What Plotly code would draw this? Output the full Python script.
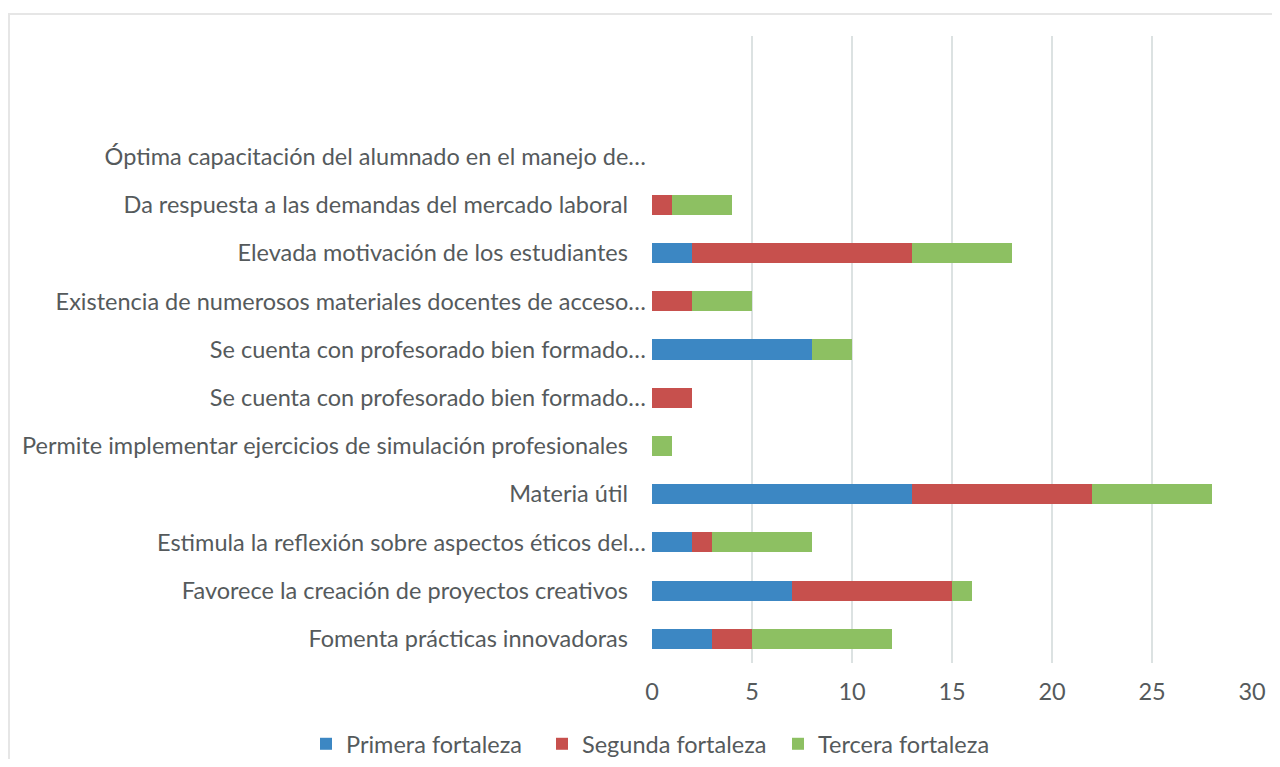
import plotly.graph_objects as go

NB = "\u00a0\u00a0\u00a0"
# categories from bottom to top
categories = [
    "Fomenta prácticas innovadoras" + NB,
    "Favorece la creación de proyectos creativos" + NB,
    "Estimula la reflexión sobre aspectos éticos del…",
    "Materia útil" + NB,
    "Permite implementar ejercicios de simulación profesionales" + NB,
    "Se cuenta con profesorado bien formado…\u200b",
    "Se cuenta con profesorado bien formado…",
    "Existencia de numerosos materiales docentes de acceso…",
    "Elevada motivación de los estudiantes" + NB,
    "Da respuesta a las demandas del mercado laboral" + NB,
    "Óptima capacitación del alumnado en el manejo de…",
]
primera = [3, 7, 2, 13, 0, 0, 8, 0, 2, 0, 0]
segunda = [2, 8, 1, 9, 0, 2, 0, 2, 11, 1, 0]
tercera = [7, 1, 5, 6, 1, 0, 2, 3, 5, 3, 0]
series_names = ["Primera fortaleza", "Segunda fortaleza", "Tercera fortaleza"]
colors = ["#3C87C3", "#C7504D", "#8DC062"]
x_ticks = [0, 5, 10, 15, 20, 25, 30]

FONT = "Lato"
FS = 23.5
TXT = "#555A5C"

fig = go.Figure()
for name, vals, col in zip(series_names, [primera, segunda, tercera], colors):
    fig.add_trace(go.Bar(
        y=categories, x=vals, name=name, orientation="h",
        marker=dict(color=col, line=dict(width=0)),
    ))

# figure is placed by the page at (8, 8)
W, H = 1264, 751
L, R, T, B = 644, 20, 28, 96
pw = W - L - R
ph = H - T - B

fig.update_layout(
    barmode="stack",
    bargap=0.585,
    width=W, height=H,
    margin=dict(l=L, r=R, t=T, b=B, autoexpand=False),
    paper_bgcolor="white",
    plot_bgcolor="white",
    font=dict(family=FONT, size=FS, color=TXT),
    xaxis=dict(
        range=[0, 30], tickvals=x_ticks, showgrid=True,
        gridcolor="#DCE2E2", gridwidth=1.5, zeroline=False,
        showline=False, ticks="", ticklabelstandoff=12,
        tickfont=dict(size=FS, color=TXT), automargin=False,
    ),
    yaxis=dict(
        type="category", categoryorder="array", categoryarray=categories,
        range=[-0.5, 12.5], showgrid=False, zeroline=False, ticks="",
        ticklabelstandoff=5, automargin=False,
        tickfont=dict(size=FS, color=TXT), showline=False,
    ),
    legend=dict(
        orientation="h", xanchor="left", yanchor="middle",
        x=(298 - L) / pw, y=-(736 - (H - B)) / ph,
        font=dict(size=FS, color=TXT),
        traceorder="normal",
        entrywidth=191, entrywidthmode="pixels",
    ),
    shapes=[
        dict(type="line", xref="paper", yref="paper",
             x0=(0 - L) / pw, x1=(W + 20 - L) / pw,
             y0=1 + (T - 6) / ph, y1=1 + (T - 6) / ph,
             line=dict(color="#E6E6E6", width=2)),
        dict(type="line", xref="paper", yref="paper",
             x0=(1 - L) / pw, x1=(1 - L) / pw,
             y0=1 + (T - 6) / ph, y1=-(B + 20) / ph,
             line=dict(color="#E6E6E6", width=2)),
    ],
)
fig.write_html("out.html")
